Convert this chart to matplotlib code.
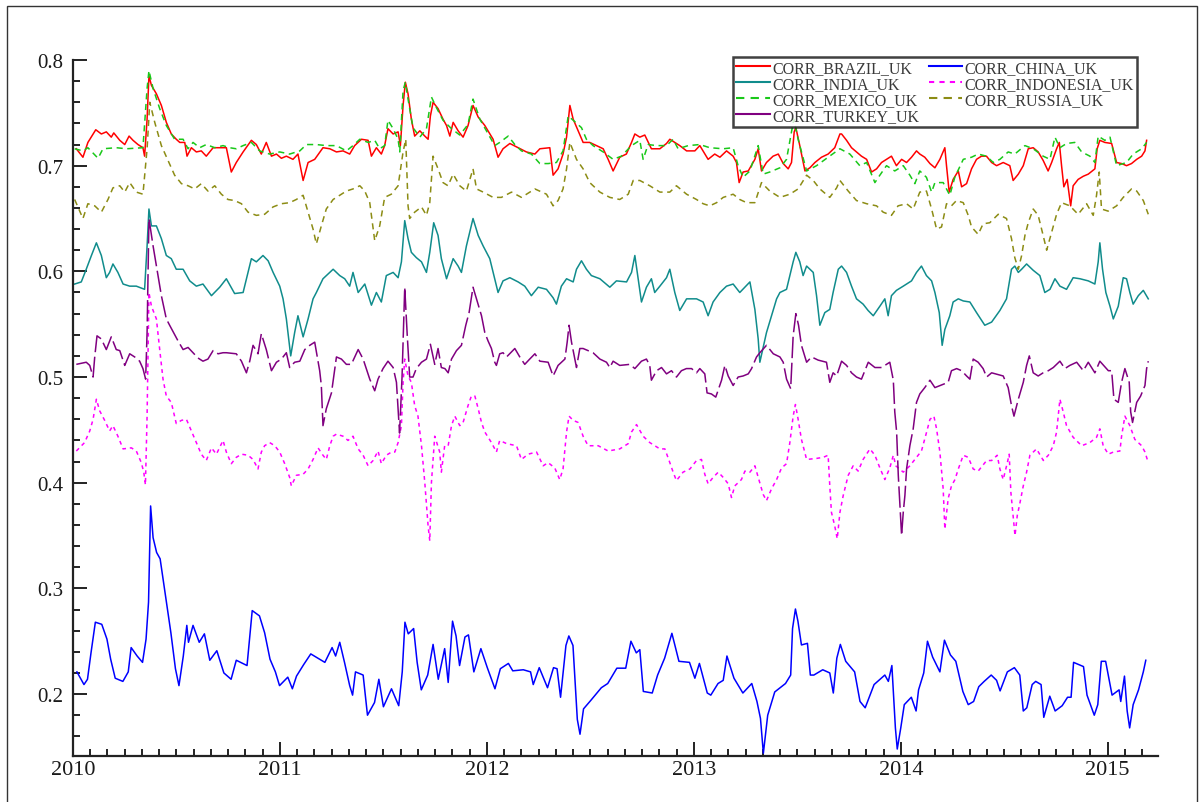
import matplotlib
matplotlib.use("Agg")
import matplotlib.pyplot as plt
from matplotlib.lines import Line2D
from matplotlib.patches import Rectangle
from matplotlib.ticker import MultipleLocator

plt.rcParams['font.family'] = ['Liberation Serif', 'DejaVu Serif']

# weekly correlations with the UK as (decimal year, value)
BRAZIL = [(2010.016,0.716),(2010.048,0.708),(2010.072,0.722),(2010.110,0.734),(2010.137,0.730),(2010.161,0.732),(2010.185,0.727),(2010.197,0.731),(2010.226,0.724),(2010.250,0.720),(2010.271,0.728),(2010.290,0.724),(2010.314,0.720),(2010.338,0.717),(2010.346,0.709),(2010.358,0.744),(2010.367,0.785),(2010.379,0.776),(2010.403,0.768),(2010.427,0.757),(2010.451,0.741),(2010.475,0.730),(2010.499,0.725),(2010.516,0.722),(2010.540,0.722),(2010.551,0.709),(2010.572,0.717),(2010.596,0.713),(2010.620,0.714),(2010.644,0.709),(2010.677,0.717),(2010.709,0.717),(2010.741,0.717),(2010.765,0.694),(2010.789,0.703),(2010.822,0.713),(2010.862,0.724),(2010.886,0.720),(2010.910,0.711),(2010.934,0.722),(2010.959,0.709),(2010.983,0.711),(2011.007,0.707),(2011.031,0.709),(2011.063,0.706),(2011.087,0.711),(2011.112,0.686),(2011.136,0.703),(2011.168,0.706),(2011.208,0.717),(2011.241,0.716),(2011.273,0.713),(2011.305,0.714),(2011.337,0.711),(2011.361,0.719),(2011.394,0.725),(2011.426,0.724),(2011.442,0.709),(2011.466,0.717),(2011.490,0.711),(2011.506,0.719),(2011.522,0.735),(2011.547,0.730),(2011.571,0.732),(2011.582,0.719),(2011.595,0.757),(2011.606,0.779),(2011.619,0.768),(2011.635,0.744),(2011.651,0.728),(2011.676,0.733),(2011.700,0.728),(2011.716,0.725),(2011.727,0.747),(2011.740,0.760),(2011.764,0.754),(2011.788,0.744),(2011.805,0.738),(2011.821,0.728),(2011.837,0.741),(2011.861,0.733),(2011.885,0.727),(2011.909,0.738),(2011.933,0.757),(2011.958,0.746),(2011.990,0.738),(2012.030,0.725),(2012.054,0.708),(2012.078,0.716),(2012.111,0.721),(2012.151,0.717),(2012.191,0.713),(2012.232,0.711),(2012.256,0.716),(2012.304,0.717),(2012.320,0.691),(2012.344,0.697),(2012.368,0.711),(2012.385,0.727),(2012.401,0.757),(2012.417,0.744),(2012.441,0.733),(2012.465,0.722),(2012.497,0.722),(2012.530,0.719),(2012.562,0.716),(2012.586,0.706),(2012.610,0.695),(2012.642,0.708),(2012.674,0.711),(2012.699,0.722),(2012.715,0.730),(2012.739,0.727),(2012.763,0.729),(2012.795,0.716),(2012.836,0.716),(2012.868,0.721),(2012.884,0.725),(2012.908,0.722),(2012.932,0.719),(2012.965,0.714),(2013.005,0.714),(2013.029,0.719),(2013.069,0.706),(2013.101,0.711),(2013.126,0.708),(2013.158,0.714),(2013.190,0.709),(2013.206,0.703),(2013.219,0.684),(2013.238,0.694),(2013.263,0.695),(2013.295,0.706),(2013.311,0.716),(2013.327,0.695),(2013.351,0.703),(2013.383,0.709),(2013.408,0.711),(2013.432,0.702),(2013.456,0.697),(2013.472,0.703),(2013.485,0.732),(2013.493,0.736),(2013.512,0.719),(2013.537,0.695),(2013.561,0.698),(2013.585,0.703),(2013.617,0.708),(2013.649,0.711),(2013.681,0.717),(2013.706,0.730),(2013.714,0.730),(2013.738,0.724),(2013.762,0.717),(2013.786,0.713),(2013.810,0.709),(2013.835,0.706),(2013.859,0.694),(2013.883,0.697),(2013.907,0.703),(2013.931,0.706),(2013.955,0.709),(2013.979,0.700),(2014.004,0.706),(2014.028,0.703),(2014.052,0.708),(2014.076,0.714),(2014.092,0.711),(2014.116,0.708),(2014.141,0.702),(2014.165,0.698),(2014.189,0.706),(2014.213,0.717),(2014.221,0.700),(2014.234,0.675),(2014.253,0.687),(2014.278,0.695),(2014.294,0.680),(2014.318,0.683),(2014.342,0.697),(2014.366,0.706),(2014.390,0.709),(2014.414,0.709),(2014.439,0.703),(2014.463,0.700),(2014.495,0.703),(2014.527,0.700),(2014.543,0.686),(2014.568,0.692),(2014.592,0.700),(2014.616,0.716),(2014.640,0.717),(2014.664,0.713),(2014.688,0.705),(2014.712,0.695),(2014.729,0.703),(2014.753,0.716),(2014.766,0.722),(2014.777,0.700),(2014.788,0.680),(2014.804,0.687),(2014.821,0.662),(2014.833,0.681),(2014.857,0.687),(2014.882,0.690),(2014.906,0.692),(2014.938,0.697),(2014.949,0.716),(2014.962,0.724),(2014.986,0.722),(2015.019,0.721),(2015.043,0.703),(2015.067,0.702),(2015.091,0.700),(2015.115,0.702),(2015.140,0.706),(2015.164,0.709),(2015.180,0.714),(2015.188,0.724)]

CHINA = [(2010.019,0.221),(2010.053,0.209),(2010.070,0.214),(2010.087,0.239),(2010.108,0.268),(2010.139,0.266),(2010.164,0.252),(2010.182,0.233),(2010.204,0.215),(2010.241,0.212),(2010.267,0.221),(2010.281,0.244),(2010.310,0.236),(2010.336,0.230),(2010.353,0.252),(2010.365,0.287),(2010.375,0.378),(2010.387,0.348),(2010.404,0.334),(2010.421,0.328),(2010.447,0.293),(2010.473,0.258),(2010.495,0.224),(2010.512,0.208),(2010.533,0.236),(2010.550,0.265),(2010.558,0.249),(2010.580,0.265),(2010.610,0.249),(2010.635,0.257),(2010.661,0.232),(2010.695,0.241),(2010.729,0.220),(2010.764,0.214),(2010.789,0.232),(2010.841,0.227),(2010.866,0.279),(2010.901,0.274),(2010.926,0.258),(2010.952,0.233),(2010.978,0.221),(2010.998,0.208),(2011.038,0.216),(2011.060,0.205),(2011.080,0.217),(2011.115,0.228),(2011.149,0.238),(2011.217,0.230),(2011.252,0.244),(2011.269,0.236),(2011.289,0.249),(2011.312,0.230),(2011.337,0.208),(2011.351,0.199),(2011.365,0.221),(2011.402,0.218),(2011.423,0.180),(2011.457,0.192),(2011.478,0.214),(2011.500,0.188),(2011.539,0.205),(2011.574,0.189),(2011.591,0.221),(2011.604,0.268),(2011.620,0.257),(2011.646,0.262),(2011.663,0.230),(2011.683,0.204),(2011.714,0.218),(2011.740,0.247),(2011.765,0.214),(2011.796,0.243),(2011.813,0.211),(2011.834,0.269),(2011.851,0.255),(2011.868,0.227),(2011.894,0.254),(2011.911,0.256),(2011.937,0.221),(2011.971,0.243),(2012.002,0.225),(2012.039,0.205),(2012.065,0.224),(2012.104,0.229),(2012.125,0.222),(2012.176,0.223),(2012.211,0.221),(2012.224,0.209),(2012.253,0.225),(2012.293,0.206),(2012.322,0.225),(2012.339,0.224),(2012.356,0.197),(2012.382,0.246),(2012.396,0.255),(2012.416,0.246),(2012.437,0.176),(2012.450,0.162),(2012.467,0.186),(2012.502,0.194),(2012.553,0.206),(2012.584,0.210),(2012.628,0.2245),(2012.671,0.2245),(2012.696,0.250),(2012.722,0.239),(2012.739,0.242),(2012.756,0.2025),(2012.799,0.201),(2012.825,0.218),(2012.859,0.234),(2012.894,0.2575),(2012.928,0.231),(2012.979,0.230),(2013.005,0.215),(2013.027,0.229),(2013.065,0.201),(2013.082,0.199),(2013.117,0.210),(2013.142,0.213),(2013.160,0.236),(2013.194,0.215),(2013.237,0.201),(2013.280,0.210),(2013.305,0.193),(2013.322,0.177),(2013.336,0.144),(2013.357,0.180),(2013.391,0.202),(2013.443,0.210),(2013.468,0.218),(2013.477,0.262),(2013.491,0.2805),(2013.503,0.269),(2013.520,0.2465),(2013.549,0.248),(2013.563,0.218),(2013.580,0.218),(2013.623,0.223),(2013.657,0.220),(2013.674,0.201),(2013.691,0.234),(2013.708,0.247),(2013.734,0.231),(2013.777,0.221),(2013.803,0.193),(2013.828,0.187),(2013.871,0.209),(2013.923,0.218),(2013.940,0.212),(2013.957,0.227),(2013.974,0.168),(2013.983,0.148),(2014.000,0.168),(2014.017,0.190),(2014.051,0.197),(2014.074,0.184),(2014.086,0.204),(2014.111,0.220),(2014.129,0.250),(2014.154,0.235),(2014.189,0.221),(2014.211,0.251),(2014.240,0.237),(2014.266,0.231),(2014.300,0.2025),(2014.326,0.190),(2014.352,0.193),(2014.377,0.207),(2014.403,0.212),(2014.437,0.218),(2014.463,0.213),(2014.480,0.203),(2014.515,0.221),(2014.549,0.225),(2014.575,0.218),(2014.592,0.184),(2014.609,0.187),(2014.635,0.209),(2014.652,0.212),(2014.678,0.209),(2014.691,0.178),(2014.720,0.198),(2014.746,0.184),(2014.780,0.189),(2014.806,0.197),(2014.823,0.197),(2014.835,0.230),(2014.883,0.226),(2014.900,0.199),(2014.935,0.180),(2014.952,0.190),(2014.969,0.231),(2014.990,0.231),(2015.021,0.199),(2015.055,0.204),(2015.063,0.193),(2015.081,0.217),(2015.094,0.184),(2015.106,0.168),(2015.123,0.190),(2015.149,0.204),(2015.172,0.221),(2015.184,0.232)]

INDIA = [(2010.008,0.588),(2010.040,0.590),(2010.064,0.602),(2010.089,0.615),(2010.113,0.627),(2010.137,0.615),(2010.161,0.594),(2010.177,0.599),(2010.193,0.607),(2010.217,0.599),(2010.242,0.588),(2010.274,0.586),(2010.306,0.586),(2010.346,0.583),(2010.358,0.624),(2010.367,0.659),(2010.379,0.643),(2010.403,0.643),(2010.427,0.631),(2010.451,0.615),(2010.475,0.612),(2010.499,0.602),(2010.532,0.602),(2010.564,0.591),(2010.596,0.586),(2010.628,0.588),(2010.669,0.577),(2010.709,0.585),(2010.741,0.593),(2010.781,0.579),(2010.822,0.580),(2010.862,0.612),(2010.886,0.609),(2010.918,0.615),(2010.943,0.610),(2010.967,0.599),(2010.999,0.586),(2011.015,0.574),(2011.031,0.555),(2011.052,0.520),(2011.071,0.542),(2011.087,0.558),(2011.112,0.538),(2011.136,0.555),(2011.160,0.574),(2011.176,0.580),(2011.208,0.593),(2011.241,0.599),(2011.257,0.602),(2011.289,0.596),(2011.313,0.593),(2011.337,0.586),(2011.353,0.599),(2011.378,0.580),(2011.410,0.588),(2011.442,0.568),(2011.466,0.580),(2011.490,0.571),(2011.514,0.596),(2011.547,0.599),(2011.571,0.594),(2011.587,0.609),(2011.603,0.648),(2011.619,0.631),(2011.635,0.618),(2011.659,0.613),(2011.684,0.609),(2011.708,0.599),(2011.724,0.618),(2011.743,0.646),(2011.764,0.634),(2011.780,0.612),(2011.805,0.593),(2011.837,0.612),(2011.861,0.605),(2011.877,0.599),(2011.901,0.624),(2011.933,0.650),(2011.958,0.634),(2011.982,0.624),(2012.014,0.612),(2012.038,0.593),(2012.054,0.580),(2012.078,0.591),(2012.111,0.594),(2012.151,0.590),(2012.183,0.586),(2012.215,0.577),(2012.248,0.585),(2012.288,0.583),(2012.320,0.575),(2012.336,0.569),(2012.360,0.586),(2012.385,0.593),(2012.417,0.590),(2012.433,0.602),(2012.457,0.610),(2012.481,0.602),(2012.505,0.596),(2012.546,0.593),(2012.594,0.585),(2012.626,0.591),(2012.675,0.590),(2012.699,0.599),(2012.715,0.615),(2012.731,0.593),(2012.747,0.571),(2012.771,0.585),(2012.795,0.593),(2012.811,0.580),(2012.836,0.586),(2012.868,0.594),(2012.884,0.602),(2012.908,0.580),(2012.932,0.563),(2012.965,0.574),(2013.013,0.574),(2013.045,0.571),(2013.069,0.558),(2013.093,0.571),(2013.126,0.580),(2013.158,0.586),(2013.190,0.588),(2013.222,0.580),(2013.271,0.590),(2013.295,0.564),(2013.311,0.536),(2013.319,0.514),(2013.351,0.542),(2013.400,0.574),(2013.416,0.580),(2013.448,0.583),(2013.480,0.609),(2013.493,0.618),(2013.512,0.609),(2013.528,0.596),(2013.545,0.605),(2013.577,0.599),(2013.593,0.577),(2013.609,0.549),(2013.633,0.561),(2013.657,0.564),(2013.673,0.580),(2013.698,0.602),(2013.714,0.605),(2013.738,0.599),(2013.762,0.586),(2013.786,0.574),(2013.818,0.569),(2013.842,0.563),(2013.867,0.558),(2013.899,0.567),(2013.923,0.574),(2013.939,0.558),(2013.955,0.577),(2013.979,0.582),(2014.012,0.586),(2014.052,0.591),(2014.076,0.599),(2014.100,0.605),(2014.124,0.596),(2014.149,0.591),(2014.165,0.580),(2014.186,0.561),(2014.200,0.530),(2014.213,0.545),(2014.237,0.558),(2014.253,0.571),(2014.278,0.574),(2014.302,0.572),(2014.334,0.571),(2014.366,0.561),(2014.406,0.549),(2014.439,0.552),(2014.479,0.563),(2014.511,0.574),(2014.535,0.602),(2014.551,0.605),(2014.568,0.599),(2014.584,0.602),(2014.608,0.607),(2014.640,0.601),(2014.672,0.596),(2014.696,0.580),(2014.721,0.583),(2014.745,0.593),(2014.769,0.586),(2014.801,0.583),(2014.833,0.594),(2014.866,0.593),(2014.906,0.591),(2014.938,0.588),(2014.954,0.609),(2014.962,0.627),(2014.975,0.602),(2014.991,0.580),(2015.011,0.567),(2015.027,0.555),(2015.051,0.567),(2015.075,0.594),(2015.091,0.593),(2015.107,0.580),(2015.123,0.569),(2015.148,0.577),(2015.172,0.582),(2015.196,0.574)]

INDONESIA = [(2010.016,0.430),(2010.056,0.438),(2010.081,0.449),(2010.097,0.460),(2010.113,0.479),(2010.129,0.468),(2010.153,0.459),(2010.177,0.449),(2010.193,0.454),(2010.217,0.444),(2010.242,0.432),(2010.282,0.433),(2010.306,0.430),(2010.330,0.419),(2010.342,0.410),(2010.350,0.398),(2010.358,0.463),(2010.367,0.580),(2010.379,0.567),(2010.403,0.555),(2010.419,0.526),(2010.435,0.498),(2010.451,0.482),(2010.475,0.476),(2010.499,0.456),(2010.524,0.459),(2010.548,0.460),(2010.572,0.449),(2010.596,0.438),(2010.620,0.427),(2010.644,0.421),(2010.669,0.433),(2010.693,0.427),(2010.725,0.440),(2010.741,0.429),(2010.765,0.418),(2010.789,0.424),(2010.814,0.427),(2010.846,0.426),(2010.870,0.422),(2010.894,0.413),(2010.910,0.429),(2010.926,0.435),(2010.950,0.438),(2010.975,0.435),(2010.999,0.429),(2011.023,0.418),(2011.047,0.405),(2011.055,0.397),(2011.079,0.407),(2011.112,0.408),(2011.136,0.413),(2011.160,0.422),(2011.184,0.433),(2011.208,0.426),(2011.224,0.422),(2011.241,0.435),(2011.257,0.444),(2011.273,0.446),(2011.305,0.444),(2011.329,0.440),(2011.353,0.444),(2011.378,0.432),(2011.402,0.426),(2011.426,0.416),(2011.450,0.421),(2011.474,0.430),(2011.490,0.418),(2011.514,0.426),(2011.539,0.429),(2011.555,0.429),(2011.571,0.438),(2011.587,0.454),(2011.595,0.495),(2011.603,0.517),(2011.619,0.501),(2011.635,0.495),(2011.651,0.473),(2011.667,0.463),(2011.684,0.435),(2011.700,0.400),(2011.716,0.359),(2011.724,0.345),(2011.732,0.400),(2011.748,0.444),(2011.772,0.429),(2011.780,0.410),(2011.796,0.435),(2011.813,0.435),(2011.829,0.454),(2011.845,0.463),(2011.869,0.454),(2011.885,0.457),(2011.909,0.473),(2011.925,0.482),(2011.942,0.482),(2011.958,0.470),(2011.974,0.457),(2011.990,0.448),(2012.022,0.438),(2012.046,0.429),(2012.062,0.440),(2012.095,0.437),(2012.143,0.435),(2012.167,0.422),(2012.199,0.427),(2012.240,0.429),(2012.272,0.416),(2012.296,0.419),(2012.328,0.414),(2012.352,0.403),(2012.368,0.413),(2012.385,0.448),(2012.397,0.463),(2012.417,0.459),(2012.441,0.457),(2012.465,0.444),(2012.489,0.435),(2012.538,0.435),(2012.586,0.430),(2012.642,0.432),(2012.683,0.437),(2012.699,0.448),(2012.723,0.455),(2012.755,0.444),(2012.787,0.438),(2012.836,0.432),(2012.860,0.432),(2012.884,0.419),(2012.900,0.410),(2012.916,0.402),(2012.948,0.410),(2012.981,0.413),(2013.013,0.421),(2013.037,0.422),(2013.053,0.408),(2013.069,0.399),(2013.093,0.405),(2013.118,0.410),(2013.142,0.405),(2013.166,0.399),(2013.182,0.386),(2013.198,0.397),(2013.230,0.403),(2013.247,0.411),(2013.271,0.410),(2013.295,0.416),(2013.319,0.400),(2013.335,0.389),(2013.351,0.383),(2013.375,0.394),(2013.400,0.403),(2013.424,0.414),(2013.448,0.418),(2013.464,0.438),(2013.480,0.463),(2013.491,0.474),(2013.504,0.460),(2013.520,0.441),(2013.545,0.422),(2013.593,0.423),(2013.625,0.424),(2013.649,0.426),(2013.657,0.397),(2013.665,0.372),(2013.681,0.359),(2013.693,0.347),(2013.706,0.372),(2013.722,0.388),(2013.746,0.407),(2013.770,0.416),(2013.794,0.411),(2013.818,0.422),(2013.851,0.432),(2013.875,0.426),(2013.899,0.414),(2013.923,0.403),(2013.947,0.414),(2013.964,0.426),(2013.976,0.416),(2014.012,0.410),(2014.044,0.416),(2014.076,0.424),(2014.100,0.430),(2014.125,0.448),(2014.141,0.460),(2014.160,0.463),(2014.173,0.451),(2014.189,0.429),(2014.205,0.394),(2014.213,0.356),(2014.229,0.385),(2014.245,0.397),(2014.262,0.403),(2014.278,0.413),(2014.302,0.426),(2014.326,0.424),(2014.350,0.413),(2014.374,0.411),(2014.415,0.421),(2014.439,0.421),(2014.466,0.426),(2014.479,0.413),(2014.495,0.403),(2014.515,0.419),(2014.524,0.427),(2014.532,0.391),(2014.543,0.369),(2014.552,0.350),(2014.563,0.369),(2014.576,0.381),(2014.592,0.397),(2014.608,0.410),(2014.624,0.426),(2014.656,0.432),(2014.689,0.421),(2014.713,0.426),(2014.737,0.435),(2014.753,0.448),(2014.769,0.479),(2014.785,0.467),(2014.801,0.454),(2014.833,0.443),(2014.874,0.435),(2014.914,0.438),(2014.946,0.443),(2014.962,0.451),(2014.978,0.435),(2015.003,0.427),(2015.027,0.429),(2015.059,0.430),(2015.067,0.444),(2015.083,0.463),(2015.107,0.454),(2015.131,0.441),(2015.164,0.435),(2015.180,0.429),(2015.196,0.419)]

MEXICO = [(2010.008,0.716),(2010.048,0.714),(2010.072,0.717),(2010.121,0.707),(2010.145,0.716),(2010.209,0.717),(2010.258,0.716),(2010.338,0.717),(2010.358,0.773),(2010.367,0.790),(2010.387,0.773),(2010.419,0.754),(2010.451,0.738),(2010.491,0.725),(2010.532,0.725),(2010.556,0.716),(2010.580,0.722),(2010.612,0.717),(2010.644,0.720),(2010.685,0.717),(2010.725,0.719),(2010.757,0.717),(2010.789,0.716),(2010.822,0.719),(2010.862,0.722),(2010.902,0.714),(2010.950,0.711),(2010.999,0.713),(2011.047,0.711),(2011.096,0.714),(2011.128,0.720),(2011.176,0.720),(2011.224,0.719),(2011.273,0.719),(2011.321,0.714),(2011.353,0.719),(2011.386,0.725),(2011.426,0.722),(2011.458,0.724),(2011.482,0.716),(2011.506,0.719),(2011.522,0.743),(2011.547,0.735),(2011.571,0.725),(2011.579,0.713),(2011.595,0.771),(2011.606,0.779),(2011.619,0.763),(2011.643,0.736),(2011.676,0.727),(2011.708,0.735),(2011.732,0.765),(2011.756,0.755),(2011.788,0.743),(2011.829,0.735),(2011.869,0.729),(2011.909,0.739),(2011.933,0.763),(2011.966,0.744),(2012.006,0.730),(2012.038,0.719),(2012.062,0.722),(2012.103,0.728),(2012.135,0.720),(2012.167,0.714),(2012.215,0.711),(2012.256,0.702),(2012.296,0.702),(2012.336,0.703),(2012.368,0.714),(2012.393,0.747),(2012.417,0.743),(2012.457,0.736),(2012.481,0.725),(2012.513,0.719),(2012.562,0.713),(2012.610,0.706),(2012.650,0.709),(2012.699,0.719),(2012.739,0.724),(2012.755,0.706),(2012.779,0.720),(2012.820,0.719),(2012.868,0.719),(2012.900,0.725),(2012.924,0.716),(2012.973,0.719),(2013.029,0.720),(2013.077,0.717),(2013.142,0.716),(2013.190,0.717),(2013.214,0.700),(2013.238,0.689),(2013.271,0.695),(2013.311,0.719),(2013.335,0.692),(2013.367,0.694),(2013.416,0.698),(2013.448,0.706),(2013.483,0.744),(2013.504,0.725),(2013.545,0.695),(2013.593,0.700),(2013.649,0.708),(2013.706,0.716),(2013.754,0.711),(2013.802,0.700),(2013.835,0.703),(2013.875,0.684),(2013.899,0.691),(2013.931,0.700),(2013.971,0.695),(2014.012,0.700),(2014.044,0.691),(2014.068,0.683),(2014.092,0.695),(2014.124,0.689),(2014.149,0.675),(2014.165,0.684),(2014.205,0.684),(2014.237,0.672),(2014.261,0.689),(2014.302,0.706),(2014.342,0.708),(2014.374,0.711),(2014.414,0.709),(2014.447,0.703),(2014.479,0.706),(2014.519,0.713),(2014.551,0.711),(2014.600,0.719),(2014.640,0.716),(2014.688,0.709),(2014.721,0.706),(2014.745,0.727),(2014.769,0.717),(2014.801,0.721),(2014.841,0.722),(2014.874,0.713),(2014.914,0.709),(2014.938,0.703),(2014.954,0.728),(2014.986,0.724),(2015.011,0.727),(2015.043,0.700),(2015.091,0.703),(2015.123,0.711),(2015.164,0.716),(2015.188,0.722)]

RUSSIA = [(2010.008,0.668),(2010.048,0.650),(2010.072,0.664),(2010.105,0.662),(2010.137,0.656),(2010.169,0.668),(2010.193,0.679),(2010.226,0.681),(2010.250,0.675),(2010.274,0.684),(2010.306,0.675),(2010.338,0.673),(2010.358,0.716),(2010.371,0.760),(2010.395,0.741),(2010.427,0.719),(2010.459,0.705),(2010.491,0.691),(2010.524,0.683),(2010.556,0.681),(2010.588,0.678),(2010.620,0.683),(2010.652,0.676),(2010.685,0.681),(2010.717,0.673),(2010.749,0.668),(2010.781,0.667),(2010.814,0.664),(2010.846,0.656),(2010.886,0.653),(2010.926,0.654),(2010.967,0.661),(2011.007,0.664),(2011.047,0.665),(2011.079,0.668),(2011.112,0.672),(2011.136,0.656),(2011.160,0.640),(2011.176,0.626),(2011.200,0.643),(2011.224,0.659),(2011.257,0.668),(2011.297,0.673),(2011.321,0.676),(2011.353,0.678),(2011.386,0.681),(2011.410,0.676),(2011.434,0.665),(2011.458,0.629),(2011.482,0.643),(2011.506,0.670),(2011.538,0.673),(2011.571,0.681),(2011.595,0.713),(2011.608,0.725),(2011.619,0.662),(2011.627,0.650),(2011.651,0.656),(2011.684,0.661),(2011.708,0.653),(2011.724,0.665),(2011.740,0.709),(2011.764,0.697),(2011.788,0.684),(2011.812,0.681),(2011.837,0.692),(2011.869,0.681),(2011.901,0.676),(2011.933,0.697),(2011.950,0.678),(2011.982,0.675),(2012.030,0.670),(2012.070,0.670),(2012.119,0.675),(2012.167,0.670),(2012.232,0.678),(2012.288,0.673),(2012.320,0.662),(2012.344,0.667),(2012.368,0.678),(2012.385,0.697),(2012.401,0.722),(2012.433,0.706),(2012.465,0.697),(2012.497,0.684),(2012.546,0.675),(2012.594,0.670),(2012.642,0.668),(2012.683,0.673),(2012.707,0.686),(2012.739,0.686),(2012.787,0.681),(2012.836,0.675),(2012.884,0.675),(2012.916,0.681),(2012.965,0.673),(2013.013,0.668),(2013.045,0.664),(2013.077,0.662),(2013.110,0.665),(2013.142,0.670),(2013.190,0.673),(2013.222,0.668),(2013.255,0.665),(2013.295,0.665),(2013.327,0.684),(2013.367,0.676),(2013.416,0.670),(2013.464,0.673),(2013.504,0.678),(2013.545,0.691),(2013.577,0.686),(2013.609,0.678),(2013.657,0.670),(2013.690,0.679),(2013.706,0.686),(2013.746,0.676),(2013.786,0.667),(2013.835,0.664),(2013.883,0.662),(2013.915,0.656),(2013.955,0.653),(2013.987,0.662),(2014.028,0.664),(2014.060,0.659),(2014.092,0.675),(2014.124,0.676),(2014.149,0.659),(2014.173,0.640),(2014.197,0.642),(2014.221,0.664),(2014.245,0.662),(2014.269,0.667),(2014.302,0.665),(2014.326,0.653),(2014.342,0.642),(2014.374,0.635),(2014.398,0.645),(2014.430,0.646),(2014.471,0.654),(2014.511,0.650),(2014.535,0.631),(2014.551,0.613),(2014.568,0.602),(2014.584,0.615),(2014.600,0.634),(2014.616,0.646),(2014.640,0.659),(2014.664,0.653),(2014.688,0.634),(2014.705,0.620),(2014.729,0.637),(2014.753,0.654),(2014.777,0.665),(2014.817,0.662),(2014.857,0.654),(2014.898,0.664),(2014.930,0.653),(2014.946,0.672),(2014.959,0.694),(2014.970,0.659),(2015.002,0.657),(2015.043,0.662),(2015.075,0.670),(2015.115,0.678),(2015.140,0.676),(2015.172,0.667),(2015.196,0.654)]

TURKEY = [(2010.016,0.512),(2010.064,0.514),(2010.081,0.511),(2010.097,0.500),(2010.105,0.519),(2010.116,0.539),(2010.137,0.536),(2010.161,0.526),(2010.185,0.538),(2010.209,0.526),(2010.226,0.525),(2010.250,0.511),(2010.274,0.522),(2010.298,0.519),(2010.322,0.515),(2010.338,0.508),(2010.351,0.498),(2010.358,0.542),(2010.367,0.650),(2010.387,0.624),(2010.411,0.596),(2010.427,0.577),(2010.451,0.555),(2010.467,0.549),(2010.508,0.534),(2010.532,0.526),(2010.556,0.528),(2010.580,0.523),(2010.604,0.518),(2010.628,0.515),(2010.652,0.517),(2010.677,0.525),(2010.701,0.522),(2010.725,0.523),(2010.741,0.523),(2010.789,0.522),(2010.814,0.515),(2010.838,0.504),(2010.854,0.515),(2010.870,0.530),(2010.894,0.522),(2010.910,0.541),(2010.934,0.526),(2010.959,0.506),(2010.983,0.514),(2011.007,0.517),(2011.031,0.523),(2011.047,0.509),(2011.071,0.514),(2011.096,0.515),(2011.120,0.526),(2011.144,0.530),(2011.168,0.533),(2011.192,0.506),(2011.200,0.492),(2011.208,0.454),(2011.224,0.470),(2011.249,0.485),(2011.273,0.519),(2011.297,0.517),(2011.321,0.512),(2011.345,0.512),(2011.378,0.526),(2011.402,0.517),(2011.434,0.498),(2011.458,0.487),(2011.474,0.498),(2011.498,0.508),(2011.522,0.515),(2011.547,0.509),(2011.563,0.495),(2011.578,0.447),(2011.590,0.500),(2011.603,0.585),(2011.615,0.540),(2011.627,0.500),(2011.643,0.500),(2011.659,0.508),(2011.684,0.514),(2011.708,0.517),(2011.727,0.531),(2011.748,0.512),(2011.764,0.527),(2011.780,0.509),(2011.797,0.508),(2011.813,0.504),(2011.829,0.517),(2011.853,0.525),(2011.877,0.530),(2011.898,0.549),(2011.914,0.561),(2011.933,0.585),(2011.974,0.558),(2011.990,0.542),(2012.006,0.534),(2012.022,0.527),(2012.038,0.514),(2012.046,0.511),(2012.062,0.522),(2012.078,0.523),(2012.095,0.519),(2012.135,0.527),(2012.159,0.519),(2012.183,0.512),(2012.207,0.517),(2012.232,0.522),(2012.256,0.515),(2012.296,0.514),(2012.320,0.501),(2012.344,0.511),(2012.377,0.517),(2012.388,0.533),(2012.397,0.549),(2012.409,0.533),(2012.433,0.509),(2012.449,0.527),(2012.465,0.527),(2012.513,0.523),(2012.546,0.517),(2012.578,0.514),(2012.594,0.509),(2012.610,0.515),(2012.642,0.511),(2012.691,0.512),(2012.715,0.508),(2012.747,0.515),(2012.771,0.517),(2012.787,0.511),(2012.795,0.497),(2012.820,0.506),(2012.844,0.509),(2012.868,0.503),(2012.892,0.506),(2012.916,0.500),(2012.940,0.506),(2012.964,0.508),(2012.989,0.508),(2013.013,0.504),(2013.029,0.508),(2013.053,0.503),(2013.064,0.485),(2013.085,0.484),(2013.106,0.481),(2013.134,0.497),(2013.150,0.511),(2013.166,0.501),(2013.190,0.492),(2013.214,0.500),(2013.238,0.501),(2013.263,0.503),(2013.279,0.508),(2013.303,0.519),(2013.319,0.523),(2013.351,0.530),(2013.384,0.522),(2013.416,0.519),(2013.432,0.514),(2013.448,0.498),(2013.468,0.489),(2013.480,0.539),(2013.493,0.560),(2013.506,0.549),(2013.520,0.530),(2013.545,0.514),(2013.569,0.519),(2013.601,0.516),(2013.641,0.514),(2013.657,0.495),(2013.673,0.504),(2013.690,0.501),(2013.714,0.515),(2013.738,0.511),(2013.762,0.504),(2013.786,0.500),(2013.810,0.498),(2013.843,0.514),(2013.875,0.509),(2013.907,0.509),(2013.947,0.514),(2013.964,0.497),(2013.971,0.467),(2013.980,0.448),(2013.988,0.407),(2013.996,0.378),(2014.004,0.350),(2014.012,0.372),(2014.020,0.388),(2014.028,0.413),(2014.044,0.435),(2014.060,0.451),(2014.076,0.476),(2014.092,0.484),(2014.116,0.490),(2014.141,0.497),(2014.165,0.490),(2014.229,0.495),(2014.245,0.506),(2014.270,0.508),(2014.294,0.506),(2014.318,0.501),(2014.334,0.498),(2014.350,0.517),(2014.374,0.514),(2014.398,0.508),(2014.415,0.500),(2014.439,0.504),(2014.495,0.501),(2014.519,0.490),(2014.535,0.473),(2014.547,0.463),(2014.568,0.479),(2014.592,0.495),(2014.608,0.511),(2014.621,0.520),(2014.640,0.504),(2014.664,0.501),(2014.688,0.504),(2014.713,0.506),(2014.737,0.509),(2014.769,0.515),(2014.793,0.508),(2014.817,0.511),(2014.850,0.514),(2014.882,0.506),(2014.906,0.514),(2014.938,0.504),(2014.962,0.515),(2015.003,0.506),(2015.019,0.506),(2015.030,0.479),(2015.051,0.476),(2015.067,0.495),(2015.083,0.508),(2015.104,0.495),(2015.111,0.467),(2015.120,0.457),(2015.140,0.476),(2015.159,0.482),(2015.180,0.492),(2015.188,0.508),(2015.196,0.515)]

# label, data, colour, dash pattern (None = solid)
series = [
    ("CORR_BRAZIL_UK", BRAZIL, "#ff0000", None),
    ("CORR_CHINA_UK", CHINA, "#0000ff", None),
    ("CORR_INDIA_UK", INDIA, "#108c8c", None),
    ("CORR_INDONESIA_UK", INDONESIA, "#ff00ff", (2.5, 2.5)),
    ("CORR_MEXICO_UK", MEXICO, "#19c819", (4, 3)),
    ("CORR_RUSSIA_UK", RUSSIA, "#8c8c14", (4, 3)),
    ("CORR_TURKEY_UK", TURKEY, "#800080", (14, 3)),
]

fig = plt.figure(figsize=(12.03, 8.03), dpi=100)
ax = fig.add_axes([73 / 1203, 1 - 757 / 803, (1158 - 73) / 1203, (757 - 61) / 803])

handles = {}
for name, pts, col, dash in series:
    t = [p[0] for p in pts]
    v = [p[1] for p in pts]
    line, = ax.plot(t, v, color=col, lw=1.1)
    if dash is not None:
        line.set_dashes(dash)
    # legend keys: Turkey is drawn broken in the chart but solid in the key
    if name == "CORR_TURKEY_UK" or dash is None:
        handles[name] = Line2D([], [], color=col, lw=1.5)
    else:
        handles[name] = Line2D([], [], color=col, lw=1.5, dashes=dash)

ax.set_xlim(2010, 2015.243)
ax.set_ylim(0.1414, 0.8)

for s in ["top", "right"]:
    ax.spines[s].set_visible(False)
for s in ["left", "bottom"]:
    ax.spines[s].set_linewidth(1.6)
    ax.spines[s].set_color("#222222")

ax.xaxis.set_major_locator(MultipleLocator(1))
ax.xaxis.set_minor_locator(MultipleLocator(1 / 12))
ax.yaxis.set_major_locator(MultipleLocator(0.1))
ax.yaxis.set_minor_locator(MultipleLocator(0.02))
ax.xaxis.set_major_formatter(plt.FuncFormatter(lambda x, p: "%d" % round(x)))
ax.yaxis.set_major_formatter(plt.FuncFormatter(lambda y, p: "%.1f" % y))
ax.tick_params(which="both", direction="in", color="#222222", width=1.4, labelcolor="#1a1a1a")
ax.tick_params(which="major", length=10)
ax.tick_params(which="minor", length=5)
ax.tick_params(axis="x", labelsize=16, pad=3)
ax.tick_params(axis="y", labelsize=15, pad=7)

order = ["CORR_BRAZIL_UK", "CORR_INDIA_UK", "CORR_MEXICO_UK", "CORR_TURKEY_UK",
         "CORR_CHINA_UK", "CORR_INDONESIA_UK", "CORR_RUSSIA_UK"]
leg = ax.legend([handles[k] for k in order], order, ncol=2, loc="upper right",
                bbox_to_anchor=(0.981, 1.005), fontsize=11.5, frameon=True, fancybox=False,
                handlelength=2.1, handletextpad=0.15, columnspacing=0.6, labelspacing=0.0,
                borderpad=0.2, borderaxespad=0)
leg.get_frame().set_edgecolor("#111111")
leg.get_frame().set_linewidth(1.8)
for txt in leg.get_texts():
    txt.set_color("#3a3a3a")

# thin frame round the whole picture
fig.patches.append(Rectangle((7 / 1203, -0.01), (1197 - 7) / 1203, 1.01 - 7 / 803,
                             transform=fig.transFigure, fill=False, lw=1.0, ec="#333333"))

fig.savefig("out.png", dpi=100)
